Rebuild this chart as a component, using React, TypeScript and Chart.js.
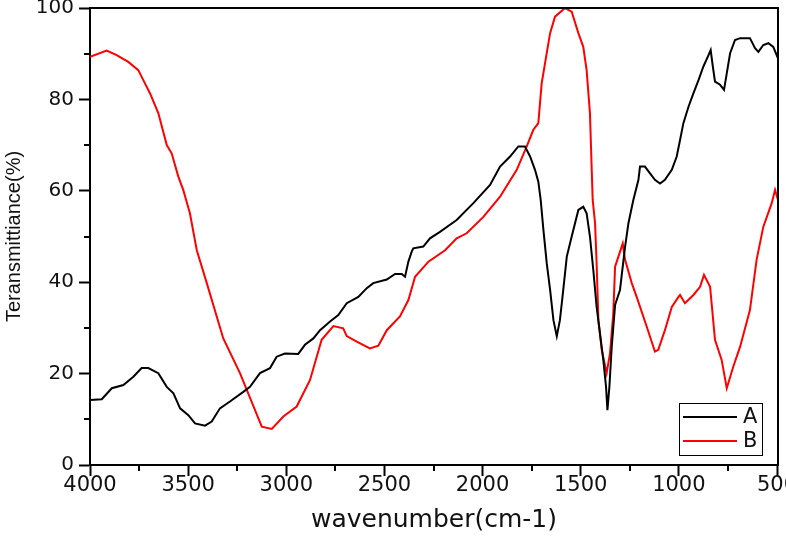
import React, { useEffect, useRef } from 'react';
import { Chart, registerables } from 'chart.js';

Chart.register(...registerables);

// Series A (black)
const wavenumberA = [4000, 3940, 3889, 3830, 3779, 3737, 3703, 3652, 3609, 3575, 3541, 3499, 3465, 3414, 3380, 3338, 3287, 3219, 3185, 3134, 3083, 3049, 3007, 2939, 2905, 2862, 2828, 2777, 2735, 2692, 2633, 2590, 2557, 2488, 2446, 2412, 2395, 2378, 2361, 2353, 2302, 2268, 2217, 2132, 2047, 1962, 1911, 1860, 1818, 1784, 1758, 1733, 1716, 1704, 1690, 1673, 1656, 1639, 1622, 1606, 1589, 1571, 1546, 1512, 1487, 1470, 1453, 1436, 1419, 1402, 1385, 1371, 1364, 1354, 1342, 1325, 1300, 1274, 1257, 1232, 1206, 1198, 1173, 1147, 1122, 1096, 1071, 1036, 1011, 994, 977, 951, 926, 900, 875, 849, 838, 827, 816, 790, 770, 756, 739, 714, 688, 638, 612, 595, 570, 544, 519, 495];
const transA = [14.2, 14.4, 16.8, 17.5, 19.3, 21.2, 21.2, 20.1, 17.1, 15.7, 12.4, 10.9, 9.1, 8.6, 9.5, 12.4, 13.9, 16.0, 17.1, 20.1, 21.2, 23.7, 24.4, 24.3, 26.3, 27.7, 29.5, 31.4, 32.8, 35.4, 36.8, 38.7, 39.8, 40.6, 41.8, 41.8, 41.2, 44.5, 46.7, 47.4, 47.8, 49.6, 51.0, 53.6, 57.3, 61.3, 65.3, 67.5, 69.7, 69.7, 67.5, 64.6, 62.0, 58.0, 51.4, 44.1, 38.3, 31.7, 28.2, 31.7, 38.3, 45.6, 50.0, 55.8, 56.5, 55.1, 50.0, 42.7, 34.6, 28.8, 23.0, 17.1, 12.0, 17.1, 25.9, 35.0, 38.3, 47.8, 52.9, 58.0, 62.4, 65.3, 65.3, 63.8, 62.4, 61.6, 62.4, 64.6, 67.5, 71.1, 74.8, 78.4, 81.3, 84.2, 87.2, 89.7, 90.8, 87.2, 83.9, 83.2, 82.1, 85.7, 90.1, 93.0, 93.4, 93.4, 91.2, 90.4, 91.9, 92.3, 91.5, 89.0];

// Series B (red)
const wavenumberB = [4000, 3915, 3864, 3805, 3754, 3720, 3694, 3652, 3609, 3584, 3550, 3525, 3491, 3456, 3405, 3321, 3236, 3125, 3074, 3015, 2947, 2879, 2820, 2760, 2710, 2692, 2641, 2574, 2531, 2488, 2421, 2378, 2344, 2276, 2191, 2132, 2081, 1996, 1911, 1826, 1775, 1742, 1716, 1699, 1682, 1656, 1631, 1580, 1546, 1512, 1487, 1470, 1453, 1444, 1439, 1427, 1419, 1410, 1393, 1368, 1351, 1334, 1325, 1308, 1286, 1274, 1240, 1215, 1164, 1122, 1105, 1071, 1036, 1002, 994, 969, 926, 892, 872, 841, 816, 782, 756, 723, 688, 638, 604, 570, 527, 510, 495];
const transB = [89.3, 90.7, 89.7, 88.2, 86.4, 83.5, 81.3, 77.0, 70.0, 68.2, 63.1, 60.2, 55.1, 47.0, 39.8, 27.7, 20.1, 8.4, 7.9, 10.6, 12.8, 18.6, 27.4, 30.4, 29.9, 28.2, 27.0, 25.5, 26.1, 29.5, 32.5, 36.1, 41.2, 44.5, 47.0, 49.6, 50.7, 54.3, 58.7, 64.6, 69.7, 73.3, 74.8, 83.5, 87.9, 94.5, 98.1, 100, 99.2, 94.5, 91.5, 86.4, 77.0, 64.6, 58.0, 52.9, 44.1, 31.7, 25.2, 20.1, 24.4, 33.2, 43.4, 45.6, 48.5, 44.9, 39.8, 36.8, 30.3, 24.8, 25.2, 29.5, 34.6, 36.8, 37.2, 35.4, 37.2, 39.0, 41.6, 39.0, 27.4, 23.0, 16.8, 21.5, 25.9, 33.9, 44.9, 52.1, 57.3, 60.2, 58.0];

const seriesLabels = ['A', 'B'];
const seriesColors = ['#000000', '#ff0000'];

const xMajorTicks = [4000, 3500, 3000, 2500, 2000, 1500, 1000, 500];
const xMinorTicks = [3750, 3250, 2750, 2250, 1750, 1250, 750];
const yMajorTicks = [0, 20, 40, 60, 80, 100];
const yMinorTicks = [10, 30, 50, 70, 90];

const xTitle = 'wavenumber(cm-1)';
const yTitle = 'Teransmittiance(%)';

const framePlugin = {
  id: 'frameAndLegend',
  afterDraw(chart: any) {
    const { ctx, chartArea } = chart;
    const { left, right, top, bottom } = chartArea;
    const xs = chart.scales.x;
    const ys = chart.scales.y;
    ctx.save();
    ctx.strokeStyle = '#000';
    ctx.lineWidth = 2;
    ctx.beginPath();
    ctx.moveTo(left, top);
    ctx.lineTo(right, top);
    ctx.lineTo(right, bottom);
    ctx.stroke();
    // minor ticks
    ctx.beginPath();
    xMinorTicks.forEach((v) => {
      const px = Math.round(xs.getPixelForValue(v));
      ctx.moveTo(px, bottom);
      ctx.lineTo(px, bottom + 6);
    });
    yMinorTicks.forEach((v) => {
      const py = Math.round(ys.getPixelForValue(v));
      ctx.moveTo(left, py);
      ctx.lineTo(left - 6, py);
    });
    ctx.stroke();

    // legend box
    const bx = 679, by = 403, bw = 83, bh = 52;
    ctx.fillStyle = '#fff';
    ctx.fillRect(bx, by, bw, bh);
    ctx.lineWidth = 1;
    ctx.strokeStyle = '#000';
    ctx.strokeRect(bx + 0.5, by + 0.5, bw, bh);
    const ds = chart.data.datasets;
    ds.forEach((d: any, i: number) => {
      const ly = by + 14 + i * 24;
      ctx.strokeStyle = d.borderColor;
      ctx.lineWidth = 2;
      ctx.beginPath();
      ctx.moveTo(bx + 4, ly);
      ctx.lineTo(bx + 58, ly);
      ctx.stroke();
      ctx.fillStyle = '#111';
      ctx.font = '21px "DejaVu Sans"';
      ctx.textBaseline = 'middle';
      ctx.textAlign = 'left';
      ctx.fillText(d.label, bx + 64, ly + 1);
    });
    ctx.restore();
  },
};

export default function App() {
  const canvasRef = useRef<HTMLCanvasElement | null>(null);

  useEffect(() => {
    const canvas = canvasRef.current;
    if (!canvas) return;
    const datasets = [
      {
        label: seriesLabels[0],
        data: wavenumberA.map((x, i) => ({ x, y: transA[i] })),
        borderColor: seriesColors[0],
        backgroundColor: seriesColors[0],
      },
      {
        label: seriesLabels[1],
        data: wavenumberB.map((x, i) => ({ x, y: transB[i] })),
        borderColor: seriesColors[1],
        backgroundColor: seriesColors[1],
      },
    ];
    const chart = new Chart(canvas, {
      type: 'line',
      data: { datasets },
      plugins: [framePlugin],
      options: {
        responsive: false,
        animation: false,
        parsing: false,
        layout: { padding: { top: 8, right: 8, left: 0, bottom: 0 } },
        plugins: { legend: { display: false }, tooltip: { enabled: false } },
        elements: {
          point: { radius: 0 },
          line: { borderWidth: 2, tension: 0 },
        },
        scales: {
          x: {
            type: 'linear',
            reverse: true,
            min: 495,
            max: 4000,
            afterBuildTicks: (s: any) => {
              s.ticks = xMajorTicks.map((v) => ({ value: v }));
            },
            afterFit: (s: any) => {
              s.height = 73;
              s.paddingLeft = 0;
              s.paddingRight = 0;
            },
            border: { display: true, color: '#000', width: 2 },
            grid: {
              drawOnChartArea: false,
              drawTicks: true,
              tickLength: 11,
              tickWidth: 2,
              tickColor: '#000',
            },
            ticks: {
              autoSkip: false,
              maxRotation: 0,
              padding: -1,
              color: '#111',
              font: { family: 'DejaVu Sans', size: 21, lineHeight: 1 },
              callback: (v: any) => String(v),
            },
            title: {
              display: true,
              text: xTitle,
              color: '#111',
              font: { family: 'DejaVu Sans', size: 25 },
              padding: { top: 0, bottom: 3 },
            },
          },
          y: {
            type: 'linear',
            min: 0,
            max: 100,
            afterBuildTicks: (s: any) => {
              s.ticks = yMajorTicks.map((v) => ({ value: v }));
            },
            afterFit: (s: any) => {
              s.width = 90;
              s.paddingTop = 0;
              s.paddingBottom = 0;
            },
            border: { display: true, color: '#000', width: 2 },
            grid: {
              drawOnChartArea: false,
              drawTicks: true,
              tickLength: 11,
              tickWidth: 2,
              tickColor: '#000',
            },
            ticks: {
              autoSkip: false,
              padding: 5,
              color: '#111',
              font: { family: 'DejaVu Sans', size: 20, lineHeight: 1 },
            },
            title: {
              display: true,
              text: yTitle,
              color: '#111',
              font: { family: 'Liberation Sans', size: 20 },
              padding: { top: 2, bottom: 0 },
            },
          },
        },
      } as any,
    });
    return () => chart.destroy();
  }, []);

  return (
    <div
      style={{
        position: 'fixed',
        left: 0,
        top: 0,
        width: 786,
        height: 538,
        background: '#fff',
        overflow: 'hidden',
      }}
    >
      <canvas ref={canvasRef} width={786} height={538} style={{ display: 'block' }} />
    </div>
  );
}
